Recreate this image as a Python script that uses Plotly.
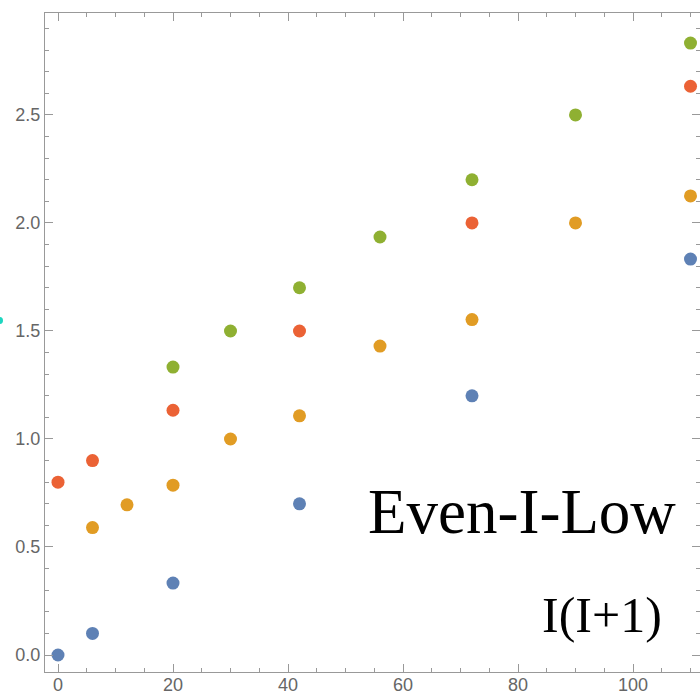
import plotly.graph_objects as go

blue_x = [0, 6, 20, 42, 72, 110]
blue_y = [0.0, 0.1, 0.333, 0.7, 1.2, 1.833]
red_x = [0, 6, 20, 42, 72, 110]
red_y = [0.8, 0.9, 1.133, 1.5, 2.0, 2.633]
orange_x = [6, 12, 20, 30, 42, 56, 72, 90, 110]
orange_y = [0.59, 0.695, 0.786, 1.0, 1.107, 1.43, 1.553, 2.0, 2.125]
green_x = [20, 30, 42, 56, 72, 90, 110]
green_y = [1.333, 1.5, 1.7, 1.935, 2.2, 2.5, 2.833]

series = [
    (blue_x, blue_y, "#5E81B5"),
    (orange_x, orange_y, "#E19C24"),
    (green_x, green_y, "#8FB032"),
    (red_x, red_y, "#EB6235"),
]

fig = go.Figure()
for xs, ys, c in series:
    fig.add_trace(go.Scatter(x=xs, y=ys, mode="markers",
                             marker=dict(size=13, color=c, line=dict(width=0)),
                             showlegend=False, hoverinfo="skip", cliponaxis=False))

axis_common = dict(
    showgrid=False, zeroline=False, showline=True, linecolor="#999999", linewidth=1,
    mirror="ticks", ticks="inside", ticklen=8, tickcolor="#999999", tickwidth=1,
    automargin=False,
    tickfont=dict(family="Liberation Sans, Arial, sans-serif", size=18, color="#666666"),
)

fig.update_xaxes(range=[-2.26, 111.65], tick0=0, dtick=20, ticklabelstandoff=-4,
                 minor=dict(dtick=5, ticks="inside", ticklen=4, tickcolor="#999999"),
                 **axis_common)
fig.update_yaxes(range=[-0.0787, 2.972], tick0=0, dtick=0.5, tickformat=".1f",
                 minor=dict(dtick=0.1, ticks="inside", ticklen=4, tickcolor="#999999"),
                 **axis_common)

fig.add_annotation(text="Even-I-Low", xref="paper", yref="paper",
                   x=(678 - 45) / 655, y=(672 - 549) / 659, xanchor="right", yanchor="bottom",
                   showarrow=False, font=dict(family="Liberation Serif, Times New Roman, serif",
                                              size=63, color="black"))
fig.add_annotation(text="I(I+1)", xref="paper", yref="paper",
                   x=(664 - 45) / 655, y=(672 - 645) / 659, xanchor="right", yanchor="bottom",
                   showarrow=False, font=dict(family="Liberation Serif, Times New Roman, serif",
                                              size=50, color="black"))

# small cyan artifact at left edge
fig.add_shape(type="circle", xref="paper", yref="paper",
              x0=(-4 - 45) / 655, x1=(3 - 45) / 655,
              y0=(672 - 324) / 659, y1=(672 - 317) / 659,
              fillcolor="#1ED6C0", line=dict(width=0))

fig.update_layout(width=700, height=695, margin=dict(l=45, r=0, t=13, b=23),
                  plot_bgcolor="white", paper_bgcolor="white")

fig.write_html("out.html")
